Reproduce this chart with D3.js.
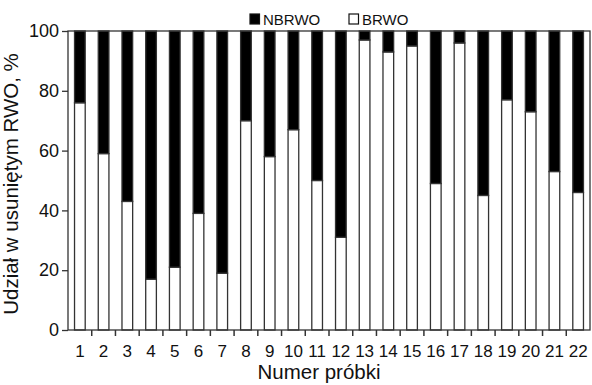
<!DOCTYPE html>
<html>
<head>
<meta charset="utf-8">
<script src="https://cdn.jsdelivr.net/npm/d3@7"></script>
<style>
  body { margin: 0; background: #fff; }
  text { font-family: "Liberation Sans", Arial, sans-serif; fill: #111; }
</style>
</head>
<body>
<svg id="chart" width="592" height="385"></svg>
<script>
// sample numbers and share of BRWO (white part), the rest is NBRWO
const samples = d3.range(1, 23).map(String);
const brwo = [76, 59, 43, 17, 21, 39, 19, 70, 58, 67, 50, 31, 97, 93, 95, 49, 96, 45, 77, 73, 53, 46];
const yTicks = [0, 20, 40, 60, 80, 100];
const legendItems = [
    { name: "NBRWO", color: "#000" },
    { name: "BRWO", color: "#fff" }
];

let svg = d3.select("#chart");

let plotLeft = 68, plotRight = 590, plotTop = 31, plotBottom = 330;
let lineColor = "#333";

let x = d3.scaleBand()
    .domain(samples)
    .range([plotLeft, plotRight])
    .paddingInner(0.55)
    .paddingOuter(0.275);

let y = d3.scaleLinear()
    .domain([0, 100])
    .range([plotBottom, plotTop]);

// bars: white bottom part, black top part
let bars = svg.append("g").selectAll("g")
    .data(samples.map((s, i) => ({ sample: s, value: brwo[i] })))
    .enter().append("g");

bars.append("rect")
    .attr("x", d => x(d.sample))
    .attr("width", x.bandwidth())
    .attr("y", d => y(d.value))
    .attr("height", d => y(0) - y(d.value))
    .attr("fill", "#fff")
    .attr("stroke", lineColor)
    .attr("stroke-width", 1.3);

bars.append("rect")
    .attr("x", d => x(d.sample))
    .attr("width", x.bandwidth())
    .attr("y", y(100))
    .attr("height", d => y(d.value) - y(100))
    .attr("fill", "#000")
    .attr("stroke", lineColor)
    .attr("stroke-width", 1.3);

// frame round the plot
svg.append("rect")
    .attr("x", plotLeft)
    .attr("y", plotTop)
    .attr("width", plotRight - plotLeft)
    .attr("height", plotBottom - plotTop)
    .attr("fill", "none")
    .attr("stroke", lineColor)
    .attr("stroke-width", 1.3);

// y axis
let yAxis = svg.append("g")
    .attr("transform", `translate(${plotLeft},0)`)
    .call(d3.axisLeft(y).tickValues(yTicks).tickSize(6).tickPadding(3));
yAxis.select(".domain").remove();
yAxis.selectAll("line").attr("stroke", lineColor).attr("stroke-width", 1.3);
yAxis.selectAll("text").style("font-size", "18px").attr("fill", "#111");

// x axis: ticks sit between the bars
let step = x.step();
let xAxis = svg.append("g").attr("transform", `translate(0,${plotBottom})`);
xAxis.selectAll("line")
    .data(samples.slice(1))
    .enter().append("line")
    .attr("x1", d => x(d) + x.bandwidth() / 2 - step / 2)
    .attr("x2", d => x(d) + x.bandwidth() / 2 - step / 2)
    .attr("y1", 0)
    .attr("y2", 6)
    .attr("stroke", lineColor)
    .attr("stroke-width", 1.5);
xAxis.selectAll("text")
    .data(samples)
    .enter().append("text")
    .attr("x", d => x(d) + x.bandwidth() / 2)
    .attr("y", 27)
    .attr("text-anchor", "middle")
    .style("font-size", "17px")
    .text(d => d);

// axis titles
svg.append("text")
    .attr("x", 319)
    .attr("y", 379)
    .attr("text-anchor", "middle")
    .style("font-size", "20.5px")
    .text("Numer próbki");

svg.append("text")
    .attr("transform", "translate(18,184) rotate(-90)")
    .attr("text-anchor", "middle")
    .style("font-size", "20.5px")
    .text("Udział w usuniętym RWO, %");

// legend
let legend = svg.append("g").selectAll("g")
    .data(legendItems)
    .enter().append("g")
    .attr("transform", (d, i) => `translate(${250 + i * 99},13)`);

legend.append("rect")
    .attr("width", 9.5)
    .attr("height", 10)
    .attr("y", 1)
    .attr("fill", d => d.color)
    .attr("stroke", "#111")
    .attr("stroke-width", 1.2);

legend.append("text")
    .attr("x", 13)
    .attr("y", 12)
    .style("font-size", "15px")
    .text(d => d.name);
</script>
</body>
</html>
